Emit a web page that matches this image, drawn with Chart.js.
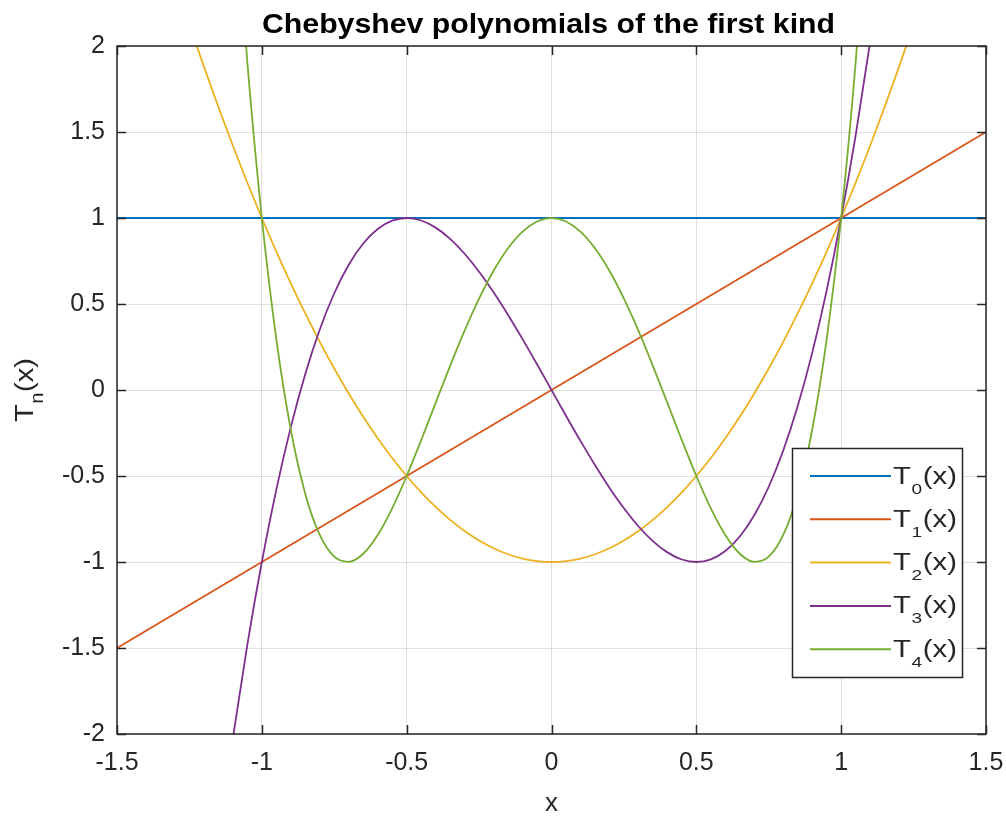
<!DOCTYPE html>
<html>
<head>
<meta charset="utf-8">
<title>Chebyshev polynomials</title>
<script src="https://cdn.jsdelivr.net/npm/chart.js@4.4.1/dist/chart.umd.min.js"></script>
<style>
  html, body { margin: 0; padding: 0; background: #ffffff; }
  #wrap { position: relative; width: 1006px; height: 817px; }
</style>
</head>
<body>
<div id="wrap"><canvas id="cheb"></canvas></div>
<script>
// x sample points shared by T2..T4
const xs = [
  -1.25, -1.2, -1.15, -1.1, -1.05, -1.0, -0.95, -0.9, -0.85, -0.8, -0.75, -0.7, -0.65,
  -0.6, -0.55, -0.5, -0.45, -0.4, -0.35, -0.3, -0.25, -0.2, -0.15, -0.1, -0.05, 0,
  0.05, 0.1, 0.15, 0.2, 0.25, 0.3, 0.35, 0.4, 0.45, 0.5, 0.55, 0.6, 0.65, 0.7,
  0.75, 0.8, 0.85, 0.9, 0.95, 1.0, 1.05, 1.1, 1.15, 1.2, 1.25
];
// straight lines only need their end points
const xEnds = [-1.5, 1.5];

const t0 = [1, 1];
const t1 = [-1.5, 1.5];
const t2 = [
  2.125, 1.88, 1.645, 1.42, 1.205, 1, 0.805, 0.62, 0.445, 0.28, 0.125, -0.02, -0.155,
  -0.28, -0.395, -0.5, -0.595, -0.68, -0.755, -0.82, -0.875, -0.92, -0.955, -0.98, -0.995, -1,
  -0.995, -0.98, -0.955, -0.92, -0.875, -0.82, -0.755, -0.68, -0.595, -0.5, -0.395, -0.28, -0.155, -0.02,
  0.125, 0.28, 0.445, 0.62, 0.805, 1, 1.205, 1.42, 1.645, 1.88, 2.125
];
const t3 = [
  -4.0625, -3.312, -2.6335, -2.024, -1.4805, -1, -0.5795, -0.216, 0.0935, 0.352, 0.5625, 0.728, 0.8515,
  0.936, 0.9845, 1, 0.9855, 0.944, 0.8785, 0.792, 0.6875, 0.568, 0.4365, 0.296, 0.1495, 0,
  -0.1495, -0.296, -0.4365, -0.568, -0.6875, -0.792, -0.8785, -0.944, -0.9855, -1, -0.9845, -0.936, -0.8515, -0.728,
  -0.5625, -0.352, -0.0935, 0.216, 0.5795, 1, 1.4805, 2.024, 2.6335, 3.312, 4.0625
];
const t4 = [
  8.031, 6.069, 4.412, 3.033, 1.904, 1, 0.296, -0.231, -0.604, -0.843, -0.969, -0.999, -0.952,
  -0.843, -0.688, -0.5, -0.292, -0.075, 0.140, 0.345, 0.531, 0.693, 0.824, 0.921, 0.980, 1,
  0.980, 0.921, 0.824, 0.693, 0.531, 0.345, 0.140, -0.075, -0.292, -0.5, -0.688, -0.843, -0.952, -0.999,
  -0.969, -0.843, -0.604, -0.231, 0.296, 1, 1.904, 3.033, 4.412, 6.069, 8.031
];

const xTicks = [-1.5, -1, -0.5, 0, 0.5, 1, 1.5];
const xTickLabels = ['-1.5', '-1', '-0.5', '0', '0.5', '1', '1.5'];
const yTicks = [-2, -1.5, -1, -0.5, 0, 0.5, 1, 1.5, 2];
const yTickLabels = ['-2', '-1.5', '-1', '-0.5', '0', '0.5', '1', '1.5', '2'];

const seriesNames = ['0', '1', '2', '3', '4'];   // subscripts of T_n(x)
const seriesColors = ['#0072bd', '#d95319', '#edb120', '#7e2f8e', '#77ac30'];

const titleText = 'Chebyshev polynomials of the first kind';
const xLabel = 'x';

const FONT = "'Liberation Sans', Arial, Helvetica, sans-serif";
const AXIS_COLOR = '#262626';

function toPoints(xv, yv) {
  return xv.map((x, i) => ({ x: x, y: yv[i] }));
}

// 文字列を横方向に伸ばして指定幅で描く
function fillStretched(ctx, text, x, y, width, align) {
  const w = ctx.measureText(text).width;
  const k = width / w;
  const left = align === 'center' ? x - width / 2 : x;
  ctx.save();
  ctx.textAlign = 'left';
  ctx.translate(left, y);
  ctx.scale(k, 1);
  ctx.fillText(text, 0, 0);
  ctx.restore();
}

// T + 下付き文字 + (x) を描く（横倍率 k）
function drawSubLabel(ctx, sub, x, y, big, small, subDrop, k) {
  ctx.save();
  ctx.translate(x, y);
  ctx.scale(k, 1);
  ctx.textAlign = 'left';
  ctx.font = big;
  ctx.fillText('T', 0, 0);
  const wT = ctx.measureText('T').width;
  ctx.font = small;
  ctx.fillText(sub, wT + 0.5, subDrop);
  const wS = ctx.measureText(sub).width;
  ctx.font = big;
  ctx.fillText('(x)', wT + wS + 1, 0);
  ctx.restore();
}

function subLabelWidth(ctx, sub, big, small) {
  ctx.save();
  ctx.font = big;
  const w = ctx.measureText('T').width + ctx.measureText('(x)').width;
  ctx.font = small;
  const s = ctx.measureText(sub).width;
  ctx.restore();
  return w + s + 1;
}

// タイトル・枠・目盛り・凡例・軸ラベルを描く
const decorations = {
  id: 'decorations',
  afterDraw(chart) {
    const ctx = chart.ctx;
    const a = chart.chartArea;
    const sx = chart.scales.x;
    const sy = chart.scales.y;
    ctx.save();

    // axes box
    ctx.strokeStyle = AXIS_COLOR;
    ctx.lineWidth = 1.5;
    ctx.strokeRect(a.left, a.top, a.right - a.left, a.bottom - a.top);

    // inward tick marks on all four sides
    const tl = 9;
    ctx.beginPath();
    xTicks.forEach(v => {
      const px = Math.round(sx.getPixelForValue(v)) + 0.5;
      ctx.moveTo(px, a.bottom); ctx.lineTo(px, a.bottom - tl);
      ctx.moveTo(px, a.top); ctx.lineTo(px, a.top + tl);
    });
    yTicks.forEach(v => {
      const py = Math.round(sy.getPixelForValue(v)) + 0.5;
      ctx.moveTo(a.left, py); ctx.lineTo(a.left + tl, py);
      ctx.moveTo(a.right, py); ctx.lineTo(a.right - tl, py);
    });
    ctx.stroke();

    // title
    ctx.fillStyle = '#000000';
    ctx.font = 'bold 27px ' + FONT;
    ctx.textBaseline = 'alphabetic';
    fillStretched(ctx, titleText, 548.5, 33, 573, 'center');

    // x label
    ctx.fillStyle = AXIS_COLOR;
    ctx.font = '26px ' + FONT;
    ctx.textAlign = 'center';
    ctx.fillText(xLabel, (a.left + a.right) / 2, 811);

    // y label T_n(x), rotated
    ctx.save();
    ctx.translate(33, (a.top + a.bottom) / 2);
    ctx.rotate(-Math.PI / 2);
    const yBig = '26px ' + FONT;
    const ySmall = '18px ' + FONT;
    const yw = subLabelWidth(ctx, 'n', yBig, ySmall);
    const yk = 64 / yw;
    drawSubLabel(ctx, 'n', -32, 0, yBig, ySmall, 10, yk);
    ctx.restore();

    // legend
    const lx = 792.5, ly = 448.5, lw = 170, lh = 229;
    ctx.fillStyle = '#ffffff';
    ctx.fillRect(lx, ly, lw, lh);
    ctx.strokeStyle = AXIS_COLOR;
    ctx.lineWidth = 1.5;
    ctx.strokeRect(lx, ly, lw, lh);
    const lBig = '23px ' + FONT;
    const lSmall = '15px ' + FONT;
    seriesNames.forEach((n, i) => {
      const y = 476 + i * 43.3;
      ctx.strokeStyle = seriesColors[i];
      ctx.lineWidth = 2;
      ctx.beginPath();
      ctx.moveTo(810, y);
      ctx.lineTo(891, y);
      ctx.stroke();
      ctx.fillStyle = AXIS_COLOR;
      const k = 64 / subLabelWidth(ctx, n, lBig, lSmall);
      drawSubLabel(ctx, n, 893, y + 7.5, lBig, lSmall, 10, k);
    });

    ctx.restore();
  }
};

const datasets = [
  { data: toPoints(xEnds, t0) },
  { data: toPoints(xEnds, t1) },
  { data: toPoints(xs, t2) },
  { data: toPoints(xs, t3) },
  { data: toPoints(xs, t4) }
].map((d, i) => Object.assign(d, {
  label: 'T' + seriesNames[i] + '(x)',
  borderColor: seriesColors[i],
  backgroundColor: seriesColors[i],
  borderWidth: 1.8,
  pointRadius: 0,
  fill: false,
  cubicInterpolationMode: 'monotone',
  order: 4 - i
}));

const tickFont = { family: FONT, size: 25 };

new Chart(document.getElementById('cheb'), {
  type: 'line',
  data: { datasets: datasets },
  plugins: [decorations],
  options: {
    responsive: true,
    maintainAspectRatio: false,
    animation: false,
    layout: { padding: { left: 0, top: 46, right: 20, bottom: 0 } },
    plugins: {
      legend: { display: false },
      title: { display: false },
      tooltip: { enabled: false }
    },
    scales: {
      x: {
        type: 'linear',
        min: -1.5,
        max: 1.5,
        afterBuildTicks: s => { s.ticks = xTicks.map(v => ({ value: v })); },
        afterFit: s => { s.height = 83; s.paddingLeft = 0; s.paddingRight = 0; },
        grid: { color: 'rgba(38,38,38,0.15)', lineWidth: 1, drawTicks: false },
        border: { display: false },
        ticks: {
          color: AXIS_COLOR,
          font: tickFont,
          padding: 14,
          maxRotation: 0,
          callback: (v) => xTickLabels[xTicks.indexOf(v)]
        }
      },
      y: {
        type: 'linear',
        min: -2,
        max: 2,
        afterBuildTicks: s => { s.ticks = yTicks.map(v => ({ value: v })); },
        afterFit: s => { s.width = 117; s.paddingTop = 0; s.paddingBottom = 0; },
        grid: { color: 'rgba(38,38,38,0.15)', lineWidth: 1, drawTicks: false },
        border: { display: false },
        ticks: {
          color: AXIS_COLOR,
          font: tickFont,
          padding: 12,
          callback: (v) => yTickLabels[yTicks.indexOf(v)]
        }
      }
    }
  }
});
</script>
</body>
</html>
